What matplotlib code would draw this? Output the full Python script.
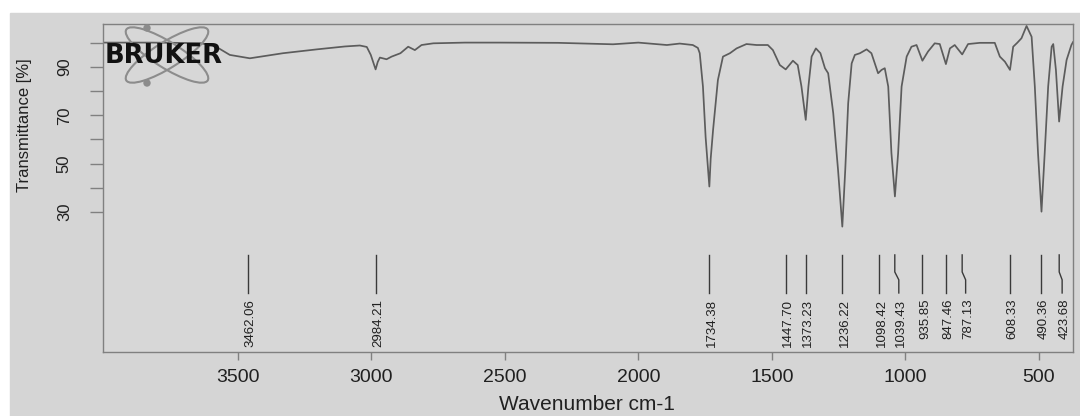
import matplotlib
matplotlib.use("Agg")
import matplotlib.pyplot as plt
from matplotlib.patches import Ellipse, Rectangle, Circle
from matplotlib.transforms import IdentityTransform, blended_transform_factory

# spectrum (cm-1, %T)
wavenumber = [4000, 3829, 3642, 3586, 3530, 3455, 3331, 3204, 3099, 3043, 3017, 3002,
              2984, 2976, 2968, 2943, 2924, 2891, 2862, 2837, 2812, 2768, 2650, 2519,
              2300, 2095, 2000, 1893, 1845, 1796, 1777, 1770, 1758, 1748, 1734, 1729,
              1720, 1702, 1683, 1657, 1632, 1595, 1557, 1515, 1496, 1470, 1448, 1421,
              1403, 1389, 1373, 1363, 1351, 1335, 1318, 1301, 1289, 1270, 1252, 1236,
              1225, 1214, 1201, 1189, 1170, 1145, 1127, 1102, 1089, 1077, 1064, 1052,
              1039, 1027, 1014, 995, 977, 958, 936, 915, 890, 871, 848, 833, 815, 787,
              765, 721, 665, 646, 627, 608, 596, 581, 565, 546, 527, 515, 503, 490,
              478, 465, 452, 446, 436, 424, 411, 396, 378, 372]
transmittance = [100.1, 100.1, 99.9, 98.7, 95.0, 93.6, 95.7, 97.3, 98.5, 98.9, 98.3, 95.0,
                 89.0, 92.1, 93.9, 93.2, 94.3, 95.7, 98.4, 97.0, 99.1, 99.8, 100.1, 100.1,
                 100.0, 99.4, 100.1, 99.1, 99.7, 99.1, 97.9, 95.7, 81.9, 61.0, 40.5, 52.0,
                 64.0, 84.6, 94.3, 95.7, 97.7, 99.5, 99.1, 99.1, 97.0, 90.8, 89.0, 92.6,
                 90.8, 81.9, 68.1, 81.9, 94.3, 97.7, 95.7, 89.5, 87.4, 70.9, 47.4, 23.9,
                 47.4, 75.0, 91.5, 95.0, 95.7, 97.3, 95.7, 87.4, 88.8, 89.5, 81.9, 54.3,
                 36.4, 54.3, 81.9, 94.3, 98.4, 99.1, 92.6, 96.4, 99.8, 99.5, 91.2, 97.7, 99.1, 95.2,
                 99.5, 100.0, 100.0, 94.3, 92.2, 88.8, 98.4, 100.0, 101.9, 107.0, 102.5, 81.9, 54.3, 30.1,
                 54.3, 81.9, 98.4, 99.5, 88.8, 67.4, 81.9, 92.9, 99.1, 100.3]

peak_positions = [3462.06, 2984.21, 1734.38, 1447.70, 1373.23, 1236.22, 1098.42,
                  1039.43, 935.85, 847.46, 787.13, 608.33, 490.36, 423.68]
peak_labels = ["3462.06", "2984.21", "1734.38", "1447.70", "1373.23", "1236.22", "1098.42",
               "1039.43", "935.85", "847.46", "787.13", "608.33", "490.36", "423.68"]

x_ticks = [3500, 3000, 2500, 2000, 1500, 1000, 500]
y_ticks = [30, 50, 70, 90]
y_minor = [40, 60, 80, 100]

# labels that are pushed sideways so they don't collide (cm-1)
label_shift = {1039.43: -15, 787.13: -13, 423.68: -11}

plt.rcParams['font.family'] = ['Liberation Sans', 'DejaVu Sans']

W, H = 1080, 416
fig = plt.figure(figsize=(W / 100, H / 100), dpi=100, facecolor='white')
# grey paper of the scan
fig.patches.append(Rectangle((10 / W, 0), 1, 403 / H, transform=fig.transFigure,
                             color='#d5d5d5', zorder=-10))

ax = fig.add_axes([103 / W, 64 / H, 970 / W, 328 / H])
ax.set_facecolor('#d7d7d7')
ax.plot(wavenumber, transmittance, color='#5c5c5c', lw=1.25)
ax.set_xlim(4005, 372)
ax.set_ylim(-28, 107.8)

for s in ax.spines.values():
    s.set_color('#808080')
    s.set_linewidth(1.0)

ax.set_xticks(x_ticks)
ax.set_yticks(y_ticks)
ax.set_yticks(y_minor, minor=True)
ax.tick_params(axis='x', length=6, width=1, color='#808080', pad=6.5,
               labelsize=14, labelcolor='#202020')
ax.tick_params(axis='y', which='both', length=9.4, width=1, color='#808080')
ax.tick_params(axis='y', which='major', pad=13, labelsize=12, labelcolor='#202020',
               labelrotation=90)
for lab in ax.get_yticklabels():
    lab.set_va('center')

ax.set_xlabel('Wavenumber cm-1', fontsize=15, color='#202020')
ax.xaxis.set_label_coords(0.499, -0.131)
ax.set_ylabel('Transmittance [%]', fontsize=12, color='#202020')
ax.yaxis.set_label_coords(-0.073, 0.692)

# peak picking marks
trans = blended_transform_factory(ax.transData, ax.transAxes)
for pos, lab in zip(peak_positions, peak_labels):
    end = pos + label_shift.get(pos, 0)
    ax.plot([pos, pos, end, end], [0.296, 0.244, 0.220, 0.180], transform=trans,
            color='#3a3a3a', lw=1.0)
    ax.annotate(lab, xy=(end, 0.162), xycoords=trans, xytext=(1.8, 0),
                textcoords='offset points', rotation=90, ha='center', va='top',
                fontsize=9.5, color='#202020')

# bruker logo
for ang in (32, -32):
    fig.add_artist(Ellipse((167, H - 55), 96, 26, angle=ang, fill=False,
                           ec='#8c8c8c', lw=1.5, transform=IdentityTransform()))
for cy in (H - 28, H - 83):
    fig.add_artist(Circle((147, cy), 3, color='#8c8c8c', transform=IdentityTransform()))
fig.text(105 / W, 1 - 56 / H, 'BRUKER', fontsize=18.5, fontweight='heavy',
         family='DejaVu Sans', ha='left', va='center', color='#111111')

fig.savefig('out.png', dpi=100, facecolor=fig.get_facecolor())
